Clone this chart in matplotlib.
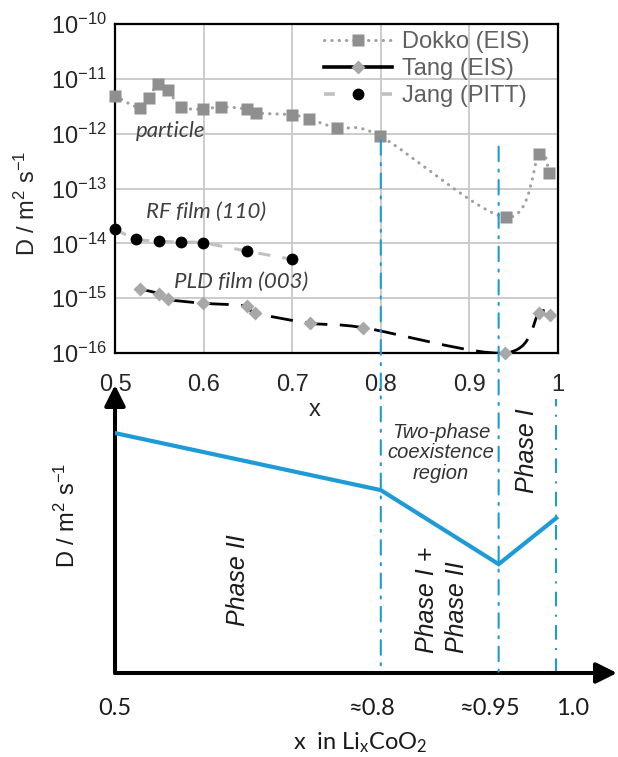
import numpy as np
import matplotlib
matplotlib.use("Agg")
import matplotlib.pyplot as plt
from matplotlib.path import Path
from matplotlib.patches import PathPatch, ConnectionPatch
from matplotlib.lines import Line2D
from matplotlib.ticker import FixedLocator, FuncFormatter

plt.rcParams['font.family'] = ['Liberation Sans', 'DejaVu Sans']
plt.rcParams['mathtext.default'] = 'regular'

# données (x dans LixCoO2, D en m2/s)
dokko_x = [0.500, 0.528, 0.538, 0.549, 0.560, 0.574, 0.599, 0.620, 0.649,
           0.659, 0.700, 0.719, 0.751, 0.799, 0.941, 0.979, 0.990]
dokko_D = [4.9e-12, 2.95e-12, 4.5e-12, 8.1e-12, 6.3e-12, 3.1e-12, 2.8e-12, 3.1e-12, 2.8e-12,
           2.4e-12, 2.2e-12, 1.86e-12, 1.26e-12, 9.1e-13, 3.0e-14, 4.3e-13, 1.9e-13]

tang_x = [0.528, 0.550, 0.560, 0.599, 0.649, 0.658, 0.720, 0.780, 0.940, 0.979, 0.991]
tang_D = [1.48e-15, 1.2e-15, 9.5e-16, 8.1e-16, 7.2e-16, 5.4e-16, 3.5e-16, 2.9e-16,
          1.0e-16, 5.4e-16, 4.9e-16]

jang_x = [0.500, 0.524, 0.550, 0.574, 0.599, 0.649, 0.700]
jang_D = [1.82e-14, 1.2e-14, 1.1e-14, 1.05e-14, 1.02e-14, 7.2e-15, 5.1e-15]

y_ticks = [1e-16, 1e-15, 1e-14, 1e-13, 1e-12, 1e-11, 1e-10]
x_ticks = [0.5, 0.6, 0.7, 0.8, 0.9, 1.0]

# schéma du bas (unités arbitraires)
phase_x = [0.5, 0.8, 0.933, 0.998]
phase_D = [0.833, 0.635, 0.378, 0.538]
boundaries = [0.8, 0.933, 0.998]
boundary_top = [7.6e-13, 5.8e-13]   # départ des traits dans le graphe du haut
bottom_ticks = [0.5, 0.79, 0.923, 1.017]
bottom_labels = ["0.5", "≈0.8", "≈0.95", "1.0"]

W, H = 618, 757
def fx(p):
    return p / W
def fy(p):
    return 1 - p / H

BLUE = '#1e9bd7'
DASHDOT = (0, (7, 4, 1, 4))


def smooth_path(xs, ys):
    # courbe lissée type Excel (Catmull-Rom -> Bezier), en espace log
    pts = np.column_stack([xs, np.log10(ys)])
    verts = [pts[0]]
    codes = [Path.MOVETO]
    n = len(pts)
    for i in range(n - 1):
        p0 = pts[max(i - 1, 0)]
        p1 = pts[i]
        p2 = pts[i + 1]
        p3 = pts[min(i + 2, n - 1)]
        verts += [p1 + (p2 - p0) / 6, p2 - (p3 - p1) / 6, p2]
        codes += [Path.CURVE4] * 3
    verts = np.array(verts)
    verts[:, 1] = 10 ** verts[:, 1]
    return Path(verts, codes)


fig = plt.figure(figsize=(6.18, 7.57), dpi=100)

# ---- graphe du haut
ax1 = fig.add_axes([fx(115), fy(353), (558 - 115) / W, (353 - 24) / H])
ax1.set_yscale('log')
ax1.set_xlim(0.5, 1.0)
ax1.set_ylim(1e-16, 1e-10)
ax1.xaxis.set_major_locator(FixedLocator(x_ticks))
ax1.yaxis.set_major_locator(FixedLocator(y_ticks))
ax1.yaxis.set_minor_locator(FixedLocator([]))
ax1.xaxis.set_major_formatter(FuncFormatter(lambda v, p: f"{v:g}"))
ax1.yaxis.set_major_formatter(FuncFormatter(lambda v, p: "10$^{%d}$" % round(np.log10(v))))
ax1.tick_params(length=0, labelsize=17, colors='#262626')
ax1.tick_params(axis='x', pad=15)
ax1.tick_params(axis='y', pad=6)
ax1.grid(True, color='#c8c8c8', lw=1.3)
ax1.set_axisbelow(True)
for s in ax1.spines.values():
    s.set_linewidth(1.6)
    s.set_color('black')

dokko_style = dict(color='#a0a0a0', lw=2.2, linestyle=(0, (0.1, 2.3)), capstyle='round')
tang_style = dict(color='black', lw=2.0, linestyle=(0, (8, 4.5)))
jang_style = dict(color='#c0c0c0', lw=2.2, linestyle=(0, (4, 4)))

ax1.add_patch(PathPatch(smooth_path(dokko_x, dokko_D), fill=False, **dokko_style))
ax1.add_patch(PathPatch(smooth_path(tang_x, tang_D), fill=False, **tang_style))
ax1.add_patch(PathPatch(smooth_path(jang_x, jang_D), fill=False, **jang_style))

ax1.plot(dokko_x, dokko_D, 's', color='#8f8f8f', ms=8.5, mec='none', clip_on=False, zorder=4)
ax1.plot(tang_x, tang_D, 'D', color='#a8a8a8', ms=7, mec='none', clip_on=False, zorder=4)
ax1.plot(jang_x, jang_D, 'o', color='black', ms=8.5, mec='none', clip_on=False, zorder=4)

handles = [
    Line2D([], [], color='#a0a0a0', lw=2.2, linestyle=(0, (0.1, 2.3)), dash_capstyle='round',
           marker='s', ms=8.5, mfc='#8f8f8f', mec='none'),
    Line2D([], [], color='black', lw=2.6, marker='D', ms=7, mfc='#a8a8a8', mec='none'),
    Line2D([], [], color='#c0c0c0', lw=2.6, linestyle=(0, (3, 5)), marker='o', ms=8.5,
           mfc='black', mec='none'),
]
ax1.legend(handles, ["Dokko (EIS)", "Tang (EIS)", "Jang (PITT)"], loc='upper left',
           bbox_to_anchor=(fx(324), fy(31)), bbox_transform=fig.transFigure,
           frameon=False, borderpad=0, borderaxespad=0, handlelength=2.9,
           handletextpad=0.4, labelspacing=0.22, fontsize=17, labelcolor='#606060')

note = dict(family=['Lato', 'DejaVu Sans'], style='italic', fontsize=16, color='#404040',
            ha='center', va='center')
ax1.text(0.563, 10 ** -11.95, "particle", **note)
ax1.text(0.603, 10 ** -13.43, "RF film (110)", **note)
ax1.text(0.642, 10 ** -14.71, "PLD film (003)", **note)

fig.text(fx(315), fy(410), "x", fontsize=17, color='#262626', ha='center', va='center')
fig.text(fx(27), fy(203), "D / m$^{2}$ s$^{-1}$", fontsize=17, color='#262626',
         ha='center', va='center', rotation=90)

# ---- schéma du bas
ax2 = fig.add_axes([fx(115), fy(673), (617 - 115) / W, (673 - 385) / H])
ax2.set_xlim(0.5, 0.5 + (617 - 115) * 0.5 / 443)
ax2.set_ylim(0, 1)
for s in ax2.spines.values():
    s.set_visible(False)
ax2.set_yticks([])
ax2.set_xticks(bottom_ticks, bottom_labels)
ax2.tick_params(length=0, pad=18, labelsize=17, labelcolor='#1a1a1a')
for t in ax2.get_xticklabels():
    t.set_family(['Lato', 'DejaVu Sans'])
ax2.patch.set_alpha(0)

arrow = dict(arrowstyle='-|>,head_length=0.7,head_width=0.35', lw=2.9, color='black',
             shrinkA=0, shrinkB=0, mutation_scale=18)
ax2.annotate('', xy=(1, 0), xytext=(0, 0), xycoords='axes fraction', arrowprops=arrow)
ax2.annotate('', xy=(0, 1), xytext=(0, 0), xycoords='axes fraction', arrowprops=arrow)

ax2.plot(phase_x, phase_D, color=BLUE, lw=3, solid_joinstyle='miter', zorder=3)

for b, top in zip(boundaries[:2], boundary_top):
    con = ConnectionPatch(xyA=(b, top), coordsA=ax1.transData, xyB=(b, 0),
                          coordsB=ax2.transData, color=BLUE, lw=1.5, linestyle=DASHDOT)
    fig.add_artist(con)
ax2.plot([boundaries[2], boundaries[2]], [0, 0.95], color=BLUE, lw=1.5, linestyle=DASHDOT)

ph = dict(style='italic', fontsize=18, color='#1a1a1a', ha='center', va='center')
fig.text(fx(441), fy(453), "Two-phase\ncoexistence\nregion", style='italic', fontsize=14.5,
         color='#333333', ha='center', va='center', linespacing=1.1)
fig.text(fx(527), fy(451), "Phase I", rotation=90, **ph)
fig.text(fx(238), fy(580), "Phase II", rotation=90, **ph)
fig.text(fx(442), fy(600), "Phase I +\nPhase II", rotation=90, multialignment='left',
         linespacing=1.3, **ph)

fig.text(fx(67), fy(515), "D / m$^{2}$ s$^{-1}$", fontsize=17, color='#1a1a1a',
         ha='center', va='center', rotation=90)
fig.text(fx(360), fy(743), "x  in Li$_{x}$CoO$_{2}$", family=['Lato', 'DejaVu Sans'],
         fontsize=17, color='#1a1a1a', ha='center', va='center')

fig.savefig("out.png", dpi=100)
